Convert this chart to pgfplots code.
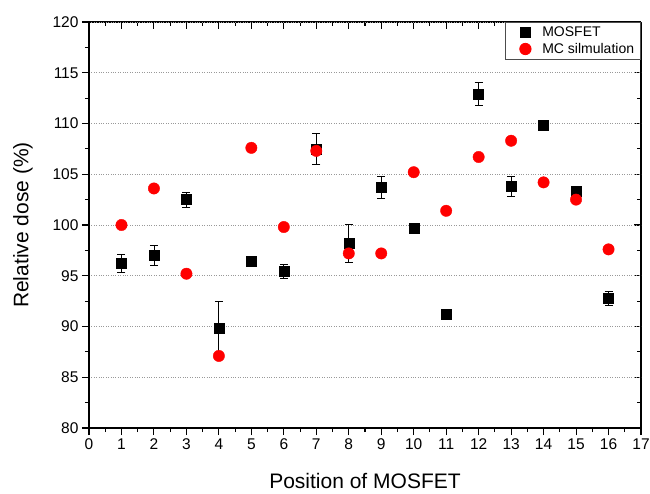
\documentclass[border=0pt]{standalone}
\usepackage{pgfplots}
\usepackage{pgfplotstable}
\pgfplotsset{compat=1.18}
\usepackage{fontspec}
\setmainfont{Liberation Sans}

% MOSFET measurements: position, dose, error +/- 
\pgfplotstableread{
x  y      ep    em
1  96.2   0.9   0.9
2  97.0   1.0   1.0
3  102.5  0.75  0.75
4  89.8   2.7   2.7
5  96.4   0.0   0.0
6  95.4   0.7   0.7
7  107.5  1.5   1.5
8  98.2   1.85  1.85
9  103.7  1.1   1.1
10 99.7   0.0   0.0
11 91.2   0.0   0.0
12 112.9  1.1   1.1
13 103.8  1.0   1.0
14 109.8  0.0   0.0
15 103.3  0.5   0.5
16 92.8   0.7   0.7
}\mosfet

% Monte Carlo simulation
\pgfplotstableread{
x  y
1  100.0
2  103.6
3  95.2
4  87.1
5  107.6
6  99.8
7  107.3
8  97.2
9  97.2
10 105.2
11 101.4
12 106.7
13 108.3
14 104.2
15 102.5
16 97.6
}\mc

\begin{document}
\begin{tikzpicture}
\pgfplotsset{
  base/.style={
    width=552pt, height=406pt, scale only axis,
    xmin=0, xmax=17, ymin=80, ymax=120,
    xtick={0,...,17}, ytick={80,85,...,120},
    minor x tick num=1, minor y tick num=1,
    major tick length=7pt, minor tick length=4pt,
    every tick/.style={black, line width=1.1pt},
    axis line style={black, line width=1.6pt},
    tick label style={font=\fontsize{15.5}{18}\selectfont},
    /pgf/number format/assume math mode=true,
  }
}
% top and right frame, ticks pointing inwards
\begin{axis}[base,
    axis x line*=top, axis y line*=right, tick align=inside,
    xticklabels={}, yticklabels={},
  ]
\end{axis}
\begin{axis}[base,
    axis x line*=bottom, axis y line*=left, tick align=outside,
    ymajorgrids, major grid style={dotted, gray!80, line width=0.7pt},
    xlabel={Position of MOSFET},
    ylabel={Relative dose (\%)},
    label style={font=\fontsize{21}{24}\selectfont},
    xlabel style={at={(axis description cs:0.5,-0.1305)}, anchor=center},
    ylabel style={at={(axis description cs:-0.1196,0.5)}, anchor=center, rotate=0},
    legend style={at={(1,1)}, anchor=north east, draw=black!70, line width=0.8pt,
      fill=white, font=\fontsize{14}{17}\selectfont,
      inner xsep=4pt, inner ysep=2pt, row sep=0pt,
      nodes={inner sep=2.5pt}},
    legend cell align=left,
    legend image code/.code={\path (0pt,0pt) (30pt,0pt);
      \draw[#1] plot coordinates {(16pt,0pt)};},
  ]
  \addplot[only marks, mark=square*, mark size=5pt, black,
    error bars/.cd, y dir=both, y explicit,
    error bar style={black, line width=0.8pt},
    error mark options={rotate=90, mark size=4pt, black, line width=0.8pt}]
    table[x=x, y=y, y error plus=ep, y error minus=em] {\mosfet};
  \addlegendentry{MOSFET}
  \addplot[only marks, mark=*, mark size=5.7pt, draw=none, fill=red, mark options={draw=red, fill=red}]
    table[x=x, y=y] {\mc};
  \addlegendentry{MC silmulation}
\end{axis}
\pgfresetboundingbox
\path ([shift={(-89pt,-65pt)}]current axis.south west) rectangle ([shift={(9pt,22pt)}]current axis.north east);
\end{tikzpicture}
\end{document}
